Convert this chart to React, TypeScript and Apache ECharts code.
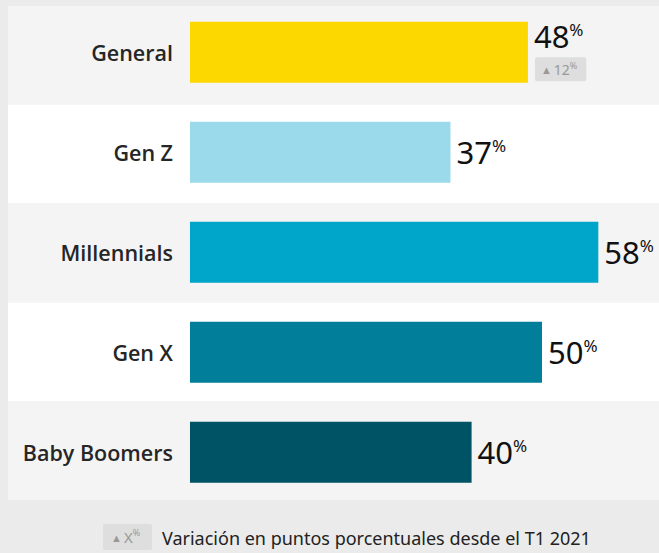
import React, { useEffect, useRef } from "react";
import * as echarts from "echarts";

const categories = ["General", "Gen Z", "Millennials", "Gen X", "Baby Boomers"];
const values = [48, 37, 58, 50, 40];
const deltas: (number | null)[] = [12, null, null, null, null];
const barColors = ["#FDD800", "#9BDAEB", "#00A5CA", "#007E9A", "#005364"];
const legendText = "Variación en puntos porcentuales desde el T1 2021";
const legendBadge = "X";

const FONT = "'Noto Sans', sans-serif";
const LABEL_FONT = "'Open Sans', 'Noto Sans', sans-serif";

export default function App() {
  const ref = useRef<HTMLDivElement>(null);
  useEffect(() => {
    document.body.style.margin = "0";
    document.body.style.background = "#ebebeb";
    const chart = echarts.init(ref.current!, null, { renderer: "svg" });
    const xBase = { type: "value", min: -25.85, max: 66.62, show: false, splitLine: { show: false } };
    const option: any = {
      animation: false,
      backgroundColor: "#ebebeb",
      grid: [
        { left: 8, right: 0, top: 6, height: 494, containLabel: false },
        { left: 8, right: 0, top: 2.3, height: 500, containLabel: false },
      ],
      xAxis: [
        { ...xBase, gridIndex: 0 },
        { ...xBase, gridIndex: 1 },
      ],
      yAxis: [
        {
          gridIndex: 0,
          type: "category",
          data: categories,
          inverse: true,
          axisLine: { show: false },
          axisTick: { show: false },
          axisLabel: { show: false },
          splitLine: { show: false },
          splitArea: { show: true, areaStyle: { color: ["#f4f4f4", "#ffffff"] } },
        },
        {
          gridIndex: 1,
          type: "category",
          data: categories,
          inverse: true,
          axisLine: { show: false },
          axisTick: { show: false },
          splitLine: { show: false },
          splitArea: { show: false },
          axisLabel: {
            margin: -165,
            fontFamily: LABEL_FONT,
            fontSize: 21.5,
            fontWeight: 600,
            color: "#262626",
          },
        },
      ],
      series: [
        {
          type: "bar",
          xAxisIndex: 1,
          yAxisIndex: 1,
          barWidth: 61,
          data: values.map((v, i) => ({
            value: v,
            itemStyle: { color: barColors[i] },
            label: deltas[i] != null ? { offset: [0, -16] } : {},
          })),
          label: {
            show: true,
            position: "right",
            distance: 6,
            fontFamily: FONT,
            formatter: (p: any) => `{v|${p.value}}{p|%}`,
            rich: {
              v: { fontFamily: FONT, fontSize: 31, color: "#111", lineHeight: 34 },
              p: { fontFamily: FONT, fontSize: 17, color: "#111", lineHeight: 34, verticalAlign: "top", padding: [2, 0, 0, 0] },
            },
          },
        },
        {
          type: "bar",
          xAxisIndex: 1,
          yAxisIndex: 1,
          barWidth: 61,
          barGap: "-100%",
          silent: true,
          itemStyle: { color: "rgba(0,0,0,0)" },
          data: values.map((v, i) => ({
            value: v,
            label: { show: deltas[i] != null },
          })),
          label: {
            show: true,
            position: "right",
            distance: 7,
            offset: [0, 17],
            backgroundColor: "#dedede",
            borderRadius: 2,
            padding: [3, 9, 3, 6],
            formatter: (p: any) => `{t|▲}{n|${deltas[p.dataIndex]}}{q|%}`,
            rich: {
              t: { fontFamily: FONT, fontSize: 11, color: "#999", lineHeight: 18, padding: [1, 2, 0, 0] },
              n: { fontFamily: FONT, fontSize: 14, color: "#999", lineHeight: 18 },
              q: { fontFamily: FONT, fontSize: 9, color: "#999", lineHeight: 18, verticalAlign: "top", padding: [1, 0, 0, 0] },
            },
          },
        },
      ],
      graphic: [
        {
          type: "rect",
          left: 103,
          top: 524,
          shape: { width: 49, height: 26, r: 2 },
          style: { fill: "#dedede" },
        },
        {
          type: "text",
          left: 111,
          top: 528,
          style: {
            text: `{t|▲}{n|${legendBadge}}{q|%}`,
            rich: {
              t: { fontFamily: FONT, fontSize: 11, fill: "#999", lineHeight: 18, padding: [1, 2, 0, 0] },
              n: { fontFamily: FONT, fontSize: 15, fill: "#999", lineHeight: 18 },
              q: { fontFamily: FONT, fontSize: 9, fill: "#999", lineHeight: 18, verticalAlign: "top" },
            },
          },
        },
        {
          type: "text",
          left: 162,
          top: 529,
          style: { text: legendText, fontFamily: FONT, fontSize: 18, fill: "#222" },
        },
      ],
    };
    chart.setOption(option);
    return () => chart.dispose();
  }, []);
  return <div ref={ref} style={{ width: 659, height: 553, background: "#ebebeb" }} />;
}
